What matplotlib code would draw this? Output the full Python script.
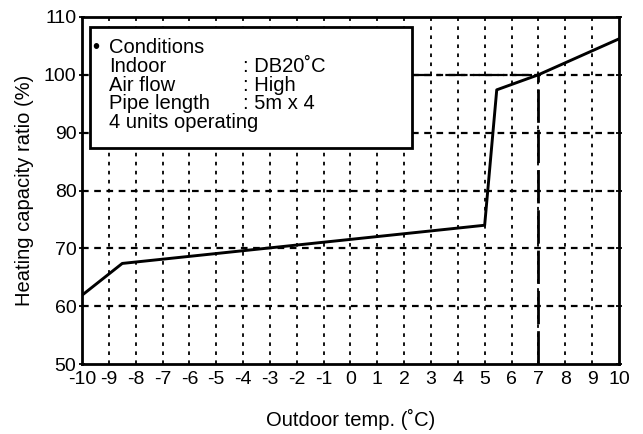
import matplotlib
matplotlib.use("Agg")
import matplotlib.pyplot as plt
from matplotlib.patches import Rectangle

plt.rcParams["font.family"] = ["Liberation Sans", "DejaVu Sans"]

# curve: outdoor temp vs heating capacity ratio
TEMP = [-10, -8.5, 5.0, 5.45, 7.0, 10.0]
RATIO = [61.9, 67.4, 74.0, 97.4, 100.0, 106.2]

X_TICKS = list(range(-10, 11))
Y_TICKS = [50, 60, 70, 80, 90, 100, 110]
REF_T, REF_R = 7, 100

COND_KEYS = ["Indoor", "Air flow", "Pipe length"]
COND_VALS = [": DB20\u02daC", ": High", ": 5m x 4"]

fig = plt.figure(figsize=(6.43, 4.34), dpi=100)
ax = fig.add_axes([0.1275, 0.161, 0.835, 0.800])
ax.set_xlim(-10, 10)
ax.set_ylim(50, 110)

for x in X_TICKS[1:-1]:
    ax.plot([x, x], [50, 110], color="black", lw=1.3, ls=(0, (2, 3)), zorder=1)
for y in Y_TICKS[1:-1]:
    ax.plot([-10, 10], [y, y], color="black", lw=1.6, ls=(0, (3, 2.5)), zorder=1)

# reference lines at 7 C / 100 %
ax.plot([2.3, REF_T], [REF_R, REF_R], color="black", lw=1.6,
        ls=(0, (9, 2, 2, 2)), zorder=2)
ax.plot([REF_T, REF_T], [50, REF_R], color="black", lw=2.0,
        ls=(0, (12, 2.5)), zorder=2)

ax.plot(TEMP, RATIO, color="black", lw=2.1, zorder=3)

ax.add_patch(Rectangle((-9.7, 87.4), 11.99, 20.9, facecolor="white",
                       edgecolor="black", lw=2.0, zorder=4))
FS = 14.5
ax.text(-9.62, 104.8, "\u2022", fontsize=FS, va="center", zorder=5)
ax.text(-9.0, 104.8, "Conditions", fontsize=FS, va="center", zorder=5)
for i, (k, v) in enumerate(zip(COND_KEYS, COND_VALS)):
    yy = 101.4 - i * 3.2
    ax.text(-9.0, yy, k, fontsize=FS, va="center", zorder=5)
    ax.text(-4.0, yy, v, fontsize=FS, va="center", zorder=5)
ax.text(-9.0, 101.4 - 3 * 3.2, "4 units operating", fontsize=FS,
        va="center", zorder=5)

for s in ax.spines.values():
    s.set_linewidth(2.0)
    s.set_zorder(6)

ax.set_xticks(X_TICKS)
ax.set_xticklabels([str(t) for t in X_TICKS])
ax.set_yticks(Y_TICKS)
ax.tick_params(axis="both", labelsize=14, length=4, width=1.3,
               direction="inout", pad=2, top=True, right=True)
ax.tick_params(axis="x", length=0, pad=5)

ax.set_xlabel("Outdoor temp. (\u02daC)", fontsize=14.5, labelpad=15)
ax.set_ylabel("Heating capacity ratio (%)", fontsize=14.5, labelpad=7)

fig.savefig("out.png", dpi=100)
